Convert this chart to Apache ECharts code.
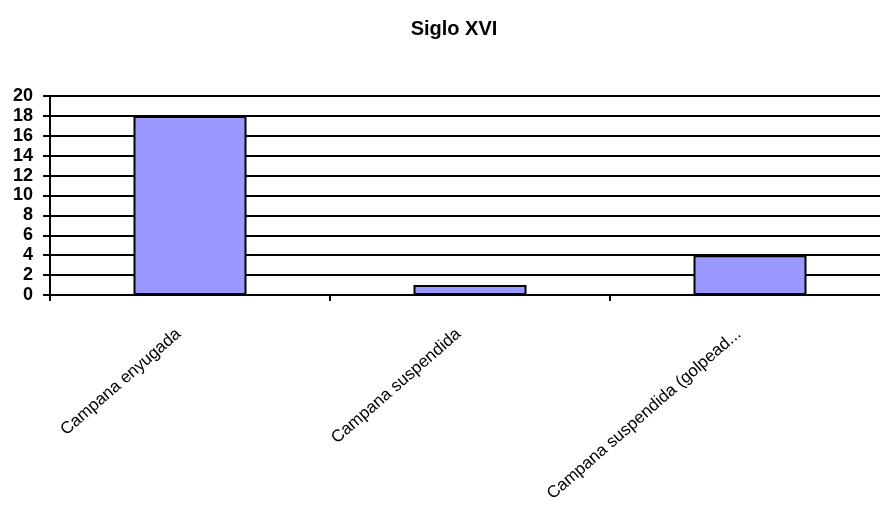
<!DOCTYPE html>
<html><head><meta charset="utf-8">
<script src="https://cdn.jsdelivr.net/npm/echarts@6/dist/echarts.min.js"></script>
<style>html,body{margin:0;padding:0;background:#fff}#c{width:880px;height:513px}</style>
</head><body><div id="c"></div>
<script>
var categories = ["Campana enyugada", "Campana suspendida", "Campana suspendida (golpead..."];
var values = [18, 1, 4];
var yTicks = {min: 0, max: 20, interval: 2};
var chart = echarts.init(document.getElementById('c'), null, {renderer: 'canvas'});
chart.setOption({
  animation: false,
  backgroundColor: '#fff',
  title: {text: 'Siglo XVI', left: 449, top: 14, textAlign: 'center',
    textStyle: {fontFamily: 'Liberation Sans, Arial', fontSize: 20, fontWeight: 'bold', color: '#000'}},
  grid: {left: 50, top: 96, width: 840, height: 199, containLabel: false, outerBoundsMode: 'none'},
  xAxis: {type: 'category', data: categories,
    axisLine: {lineStyle: {color: '#000', width: 2}},
    axisTick: {show: true, alignWithLabel: false, length: 6, lineStyle: {color: '#000', width: 2}},
    axisLabel: {rotate: 41, interval: 0, margin: 27, padding: [0, 15, 0, 0], fontFamily: 'Liberation Sans, Arial', fontSize: 17, color: '#000'}},
  yAxis: {type: 'value', min: yTicks.min, max: yTicks.max, interval: yTicks.interval,
    axisLine: {show: true, lineStyle: {color: '#000', width: 2}},
    axisTick: {show: true, length: 7, lineStyle: {color: '#000', width: 2}},
    splitLine: {lineStyle: {color: '#000', width: 2}},
    axisLabel: {margin: 17, fontFamily: 'Liberation Sans, Arial', fontSize: 18, fontWeight: 'bold', color: '#000'}},
  series: [{type: 'bar', data: values, barWidth: 113,
    itemStyle: {color: '#9999ff', borderColor: '#000', borderWidth: 2}}]
});
</script></body></html>
